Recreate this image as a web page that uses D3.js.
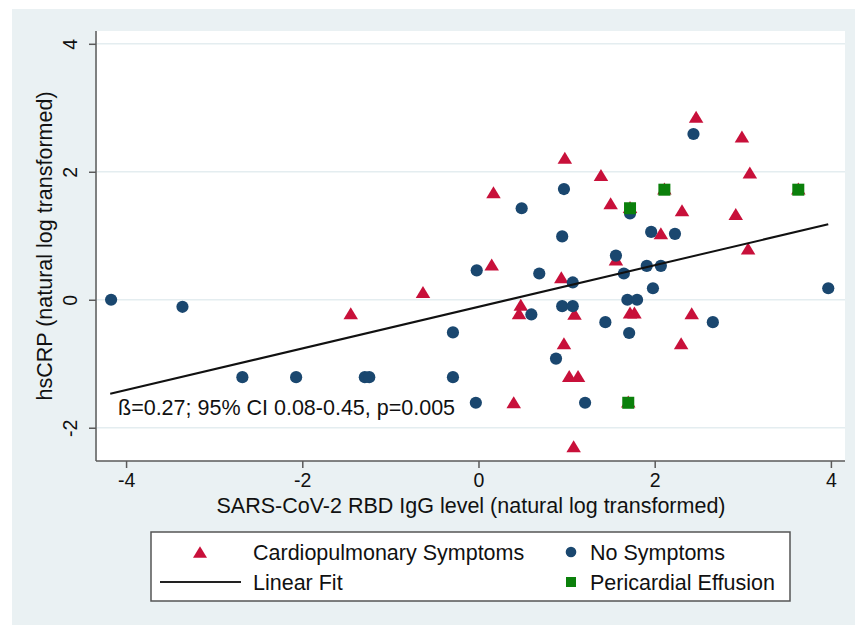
<!DOCTYPE html>
<html>
<head>
<meta charset="utf-8">
<script src="https://cdn.jsdelivr.net/npm/d3@7/dist/d3.min.js"></script>
<style>
  html, body { margin: 0; padding: 0; background: #fff; }
  svg { display: block; font-family: "Liberation Sans", Arial, sans-serif; }
</style>
</head>
<body>
<svg id="chart" width="855" height="625"></svg>
<script>
// --- data --------------------------------------------------------------------
// Cardiopulmonary symptoms: [IgG, hsCRP]
const cardioPts = [
  [-1.45, -0.21], [-0.63, 0.12], [0.17, 1.68], [0.15, 0.55], [0.98, 2.22],
  [0.94, 0.35], [0.48, -0.08], [0.46, -0.21], [1.09, -0.22], [0.97, -0.68],
  [1.03, -1.19], [1.13, -1.19], [0.40, -1.60], [1.08, -2.29], [1.39, 1.95],
  [1.50, 1.51], [1.56, 0.63], [2.07, 1.04], [2.31, 1.40], [2.47, 2.86],
  [2.99, 2.55], [3.08, 1.99], [2.92, 1.34], [3.06, 0.80], [1.72, -0.20],
  [1.77, -0.20], [2.42, -0.21], [2.30, -0.68],
  [1.72, 1.45], [2.11, 1.74], [3.63, 1.74], [1.70, -1.59]
];
// No symptoms
const noSymPts = [
  [-4.17, 0.00], [-3.36, -0.11], [-2.68, -1.21], [-2.07, -1.21], [-1.29, -1.21],
  [-1.24, -1.21], [-0.29, -0.51], [-0.29, -1.21], [-0.02, 0.46], [-0.03, -1.61],
  [0.49, 1.43], [0.97, 1.73], [0.95, 0.99], [0.69, 0.41], [1.07, 0.27],
  [0.60, -0.23], [0.95, -0.10], [1.07, -0.10], [0.88, -0.92], [1.21, -1.61],
  [1.44, -0.35], [1.71, -0.52], [1.69, 0.00], [1.80, 0.00], [1.98, 0.18],
  [1.65, 0.41], [1.56, 0.69], [1.91, 0.53], [2.07, 0.53], [1.96, 1.06],
  [2.23, 1.03], [1.72, 1.35], [2.44, 2.59], [2.66, -0.35], [3.97, 0.18]
];
// Pericardial effusion
const effusionPts = [[1.72, 1.43], [2.11, 1.72], [3.63, 1.72], [1.70, -1.61]];
// Linear fit endpoints
const fitLine = [[-4.18, -1.47], [3.97, 1.18]];

const xTicks = [-4, -2, 0, 2, 4];
const yTicks = [-2, 0, 2, 4];
const xTitle = 'SARS-CoV-2 RBD IgG level (natural log transformed)';
const yTitle = 'hsCRP (natural log transformed)';
const note = 'ß=0.27; 95% CI 0.08-0.45, p=0.005';
const legendItems = [
  {label: 'Cardiopulmonary Symptoms', kind: 'tri'},
  {label: 'No Symptoms', kind: 'circle'},
  {label: 'Linear Fit', kind: 'line'},
  {label: 'Pericardial Effusion', kind: 'square'}
];

// --- layout ------------------------------------------------------------------
const C = {bg: '#eaf1f3', grid: '#e4edf0', axis: '#5a5a5a', red: '#c8103a', navy: '#1a476f', green: '#0b800b'};
const plot = {left: 97, right: 845, top: 31, bottom: 461};
const FS = '21.5px';

const svg = d3.select('#chart');
svg.append('rect').attr('x', 12).attr('y', 9).attr('width', 843).attr('height', 616).attr('fill', C.bg);
svg.append('rect').attr('x', plot.left).attr('y', plot.top)
  .attr('width', plot.right - plot.left).attr('height', plot.bottom - plot.top).attr('fill', '#fff');

const x = d3.scaleLinear().domain([-4.33, 4.16]).range([plot.left, plot.right]);
const y = d3.scaleLinear().domain([-2.52, 4.2]).range([plot.bottom, plot.top]);

// gridlines
svg.append('g').selectAll('line').data(yTicks).join('line')
  .attr('x1', plot.left).attr('x2', plot.right)
  .attr('y1', d => y(d)).attr('y2', d => y(d))
  .attr('stroke', C.grid).attr('stroke-width', 1.5);

// axes
const xAxis = svg.append('g').attr('transform', `translate(0,${plot.bottom})`)
  .call(d3.axisBottom(x).tickValues(xTicks).tickSize(7).tickPadding(5).tickFormat(d3.format('d')));
const yAxis = svg.append('g').attr('transform', `translate(${plot.left - 1},0)`)
  .call(d3.axisLeft(y).tickValues(yTicks).tickSize(7).tickFormat(d3.format('d')));
[xAxis, yAxis].forEach(g => {
  g.select('.domain').attr('stroke', C.axis).attr('stroke-width', 1.5);
  g.selectAll('.tick line').attr('stroke', C.axis).attr('stroke-width', 1.5);
  g.selectAll('.tick text').attr('fill', '#111').style('font-size', '19.5px');
});
xAxis.select('.domain').attr('d', `M${plot.left - 1},0H${plot.right}`);
yAxis.select('.domain').attr('d', `M0,${plot.top}V${plot.bottom}`);
xAxis.selectAll('.tick text').attr('y', 12).attr('dy', '0.71em').text(d => d < 0 ? '-' + Math.abs(d) : d);
yAxis.selectAll('.tick text')
  .attr('x', 0).attr('dy', 0).attr('text-anchor', 'middle')
  .attr('transform', 'translate(-19,0) rotate(-90)')
  .text(d => d < 0 ? '-' + Math.abs(d) : d);

// titles
svg.append('text').attr('x', (plot.left + plot.right) / 2).attr('y', 513)
  .attr('text-anchor', 'middle').style('font-size', FS).attr('fill', '#111').text(xTitle);
svg.append('text').attr('transform', `translate(52,${(plot.top + plot.bottom) / 2}) rotate(-90)`)
  .attr('text-anchor', 'middle').style('font-size', FS).attr('fill', '#111').text(yTitle);

// markers
const triPath = (w, h) => `M0,${-h / 2}L${w / 2},${h / 2}L${-w / 2},${h / 2}Z`;
const marks = svg.append('g');
marks.append('g').selectAll('path').data(cardioPts).join('path')
  .attr('d', triPath(14.5, 12))
  .attr('transform', d => `translate(${x(d[0])},${y(d[1])})`)
  .attr('fill', C.red);
marks.append('g').selectAll('circle').data(noSymPts).join('circle')
  .attr('cx', d => x(d[0])).attr('cy', d => y(d[1])).attr('r', 6.1)
  .attr('fill', C.navy);
marks.append('g').selectAll('rect').data(effusionPts).join('rect')
  .attr('x', d => x(d[0]) - 6).attr('y', d => y(d[1]) - 6)
  .attr('width', 12).attr('height', 12).attr('fill', C.green);

// fit line
svg.append('path').datum(fitLine)
  .attr('d', d3.line().x(d => x(d[0])).y(d => y(d[1])))
  .attr('stroke', '#111').attr('stroke-width', 2).attr('fill', 'none');

// annotation
svg.append('text').attr('x', 118).attr('y', 415).style('font-size', FS).attr('fill', '#111').text(note);

// legend
const lg = svg.append('g');
lg.append('rect').attr('x', 151).attr('y', 532).attr('width', 639).attr('height', 69)
  .attr('fill', '#fff').attr('stroke', '#555').attr('stroke-width', 1.5);
const slots = [
  {mx: 200, tx: 253, cy: 552},
  {mx: 571, tx: 590, cy: 552},
  {mx: 200, tx: 253, cy: 582},
  {mx: 571, tx: 590, cy: 582}
];
legendItems.forEach((it, i) => {
  const s = slots[i];
  if (it.kind === 'tri') lg.append('path').attr('d', triPath(14, 11.5)).attr('transform', `translate(${s.mx},${s.cy})`).attr('fill', C.red);
  if (it.kind === 'circle') lg.append('circle').attr('cx', s.mx).attr('cy', s.cy).attr('r', 5.3).attr('fill', C.navy);
  if (it.kind === 'square') lg.append('rect').attr('x', s.mx - 5).attr('y', s.cy - 5).attr('width', 10).attr('height', 10).attr('fill', C.green);
  if (it.kind === 'line') lg.append('line').attr('x1', 160).attr('x2', 241).attr('y1', s.cy).attr('y2', s.cy).attr('stroke', '#222').attr('stroke-width', 2);
  lg.append('text').attr('x', s.tx).attr('y', s.cy + 7.5).style('font-size', FS).attr('fill', '#111').text(it.label);
});
</script>
</body>
</html>
